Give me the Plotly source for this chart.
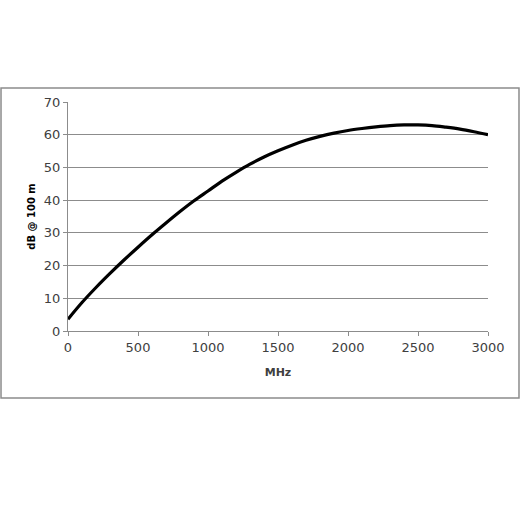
"""
Atténuation d'un câble coaxial (dB pour 100 m) en fonction de la fréquence.
"""

import plotly.graph_objects as go

# fréquences (MHz) et atténuation (dB @ 100 m)
freq_mhz = [0, 100, 200, 300, 400, 500, 600, 700, 800, 900, 1000,
            1100, 1200, 1300, 1400, 1500, 1600, 1700, 1800, 1900, 2000,
            2100, 2200, 2300, 2400, 2500, 2600, 2700, 2800, 2900, 3000]
atten_db = [3.6, 8.7, 13.3, 17.6, 21.7, 25.6, 29.4, 33.0, 36.5, 39.8, 42.8,
            45.8, 48.5, 51.0, 53.2, 55.1, 56.8, 58.3, 59.5, 60.5, 61.3,
            61.9, 62.4, 62.8, 63.0, 63.0, 62.8, 62.3, 61.7, 60.9, 60.0]

x_ticks = [0, 500, 1000, 1500, 2000, 2500, 3000]
y_ticks = [0, 10, 20, 30, 40, 50, 60, 70]

GRID = "#8c8c8c"
TXT = "#404040"


def main():
    fig = go.Figure()
    fig.add_trace(go.Scatter(x=freq_mhz, y=atten_db, mode="lines",
                             line=dict(color="black", width=3.2, shape="spline"),
                             showlegend=False))

    fig.update_layout(
        width=520, height=520,
        margin=dict(l=68, r=32, t=102, b=189),
        paper_bgcolor="white", plot_bgcolor="white",
        font=dict(family="DejaVu Sans", size=13, color=TXT),
        xaxis=dict(
            range=[0, 3000], tickvals=x_ticks, showgrid=False,
            showline=True, linecolor=GRID, linewidth=1,
            ticks="outside", ticklen=4, tickcolor=GRID,
            zeroline=False,
            title=dict(text="<b>MHz</b>", font=dict(size=11, color=TXT), standoff=14),
        ),
        yaxis=dict(
            range=[0, 70], tickvals=y_ticks, showgrid=True,
            gridcolor=GRID, gridwidth=1,
            showline=True, linecolor=GRID, linewidth=1,
            ticks="outside", ticklen=4, tickcolor=GRID,
            zeroline=False,
            title=dict(text="<b>dB @ 100 m</b>", font=dict(size=10, color="black"),
                       standoff=6),
        ),
        shapes=[dict(type="rect", xref="paper", yref="paper",
                     x0=-0.1595, x1=1.0738, y0=-0.2926, y1=1.061,
                     line=dict(color="#8c8c8c", width=1.5))],
    )

    # pas de marge autour du graphique dans la page, pas de barre d'outils
    fig.write_html("out.html", config={"displayModeBar": False},
                   post_script="document.body.style.margin='0';")


if __name__ == "__main__":
    main()
